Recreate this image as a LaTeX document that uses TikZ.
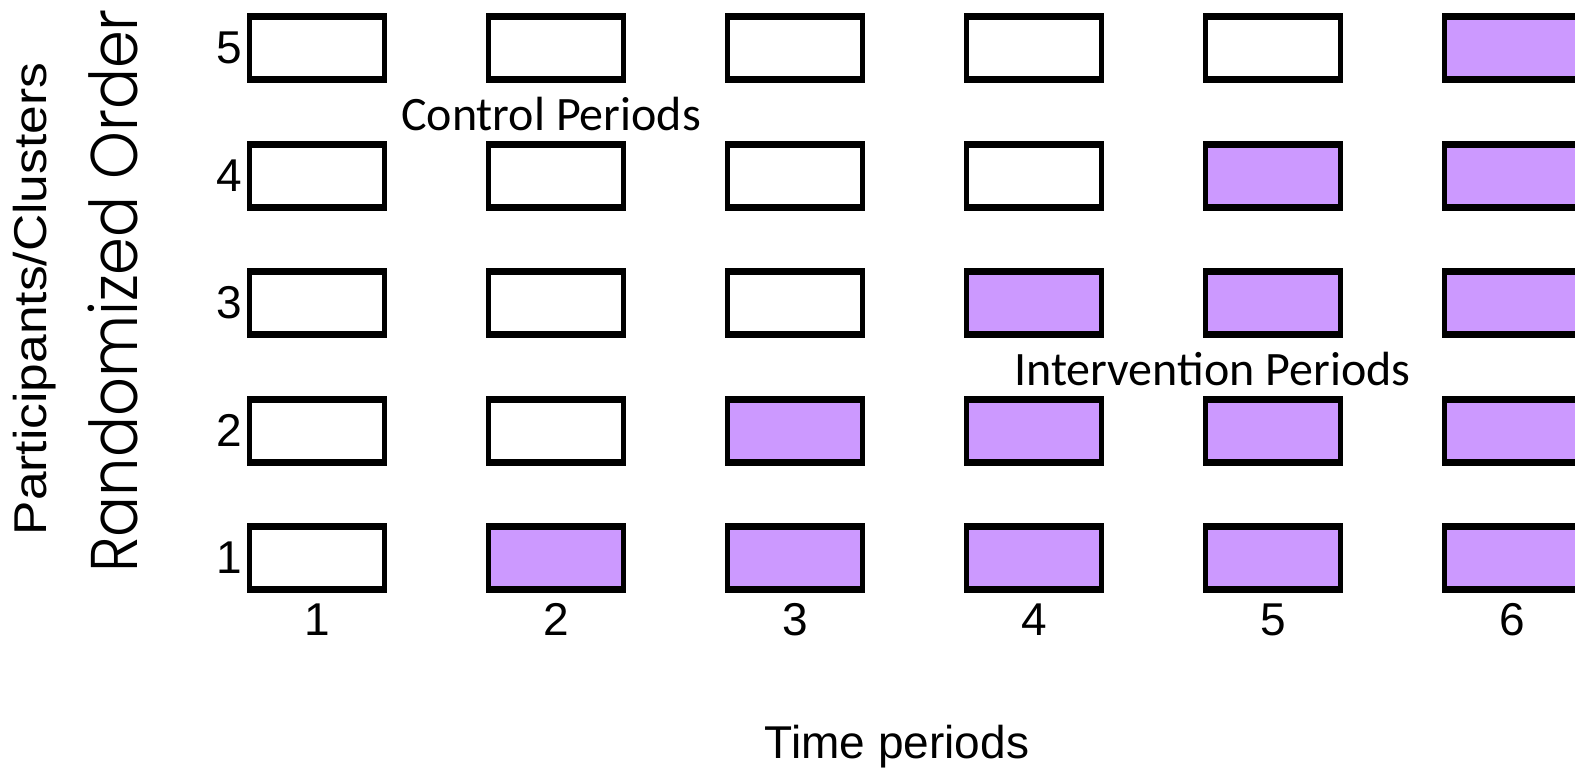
\documentclass[tikz,border=0pt]{standalone}
\usepackage{fontspec}
\setmainfont{Liberation Sans}
\newfontfamily\calibrifont{Carlito}
\newfontfamily\geofont{Poppins}[UprightFont=* Light]
\definecolor{interv}{RGB}{204,153,255}
\tikzset{
  cbox/.style={draw=black, line width=5pt, fill=white, minimum width=135pt, minimum height=63pt, inner sep=0pt, outer sep=0pt},
  ibox/.style={cbox, fill=interv},
  hedge/.style={line width=7pt, shorten <=-2.5pt, shorten >=-2.5pt},
  digit/.style={font=\fontsize{46}{46}\selectfont, inner sep=0pt},
  axlab/.style={font=\fontsize{46}{46}\selectfont, inner sep=0pt},
  note/.style={font=\calibrifont\fontsize{48}{48}\selectfont, inner sep=0pt}
}
\begin{document}
\begin{tikzpicture}[x=1pt,y=-1pt]
\useasboundingbox (0,0) rectangle (1575,774);
\clip (0,0) rectangle (1575,774);
\foreach \r in {1,...,5}{
  \foreach \c in {1,...,6}{
    \pgfmathsetmacro{\cx}{317+239*(\c-1)}
    \pgfmathsetmacro{\cy}{558-127.5*(\r-1)}
    \ifnum\c>\r
      \node[ibox] (b-\r-\c) at (\cx,\cy) {};
    \else
      \node[cbox] (b-\r-\c) at (\cx,\cy) {};
    \fi
    \draw[hedge] (b-\r-\c.north west) -- (b-\r-\c.north east);
    \draw[hedge] (b-\r-\c.south west) -- (b-\r-\c.south east);
  }
  \node[digit, anchor=east] (row-\r) at ([xshift=-7pt]b-\r-1.west) {\r};
}
\foreach \c in {1,...,6}{
  \node[digit, anchor=base] (col-\c) at ([yshift=-46pt]b-1-\c.south) {\c};
}
\node[axlab, anchor=base] (xlab) at (897,758) {Time periods};
\node[axlab, anchor=base, rotate=90] (ylab) at (46,299) {\scalebox{1.12}[1]{Participants/Clusters}};
\node[font=\geofont\fontsize{66}{66}\selectfont, inner sep=0pt, anchor=base, rotate=90] (order) at (137,291) {\scalebox{0.92}[1]{Randomized Order}};
\node[note, anchor=base west] (ctrl) at (401,130) {Control Periods};
\node[note, anchor=base west] (intv) at (1014,385) {Intervention Periods};
\end{tikzpicture}
\end{document}
